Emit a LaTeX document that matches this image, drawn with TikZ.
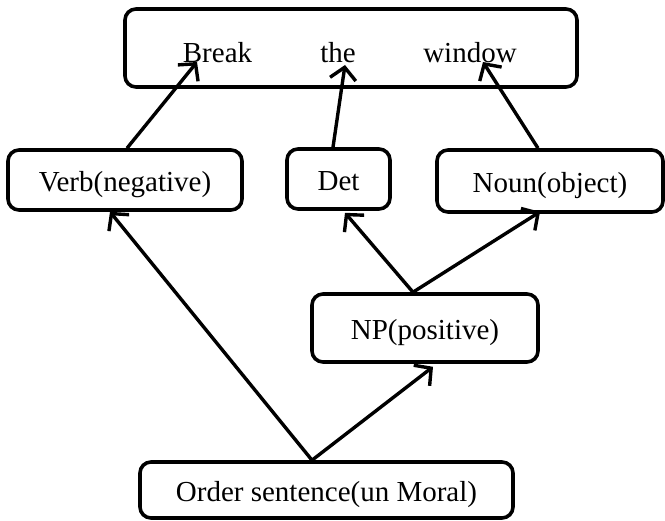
\documentclass[tikz,border=0pt]{standalone}
\usepackage{fontspec}
\setmainfont{Liberation Serif}
\usetikzlibrary{arrows.meta}
\begin{document}
\begin{tikzpicture}[x=1pt,y=-1pt,
  box/.style={draw, line width=3.6pt, rounded corners=11pt, inner sep=0pt,
    text height=28pt, text depth=4pt, font=\fontsize{29}{34}\selectfont},
  word/.style={inner sep=0pt, anchor=base, font=\fontsize{29}{34}\selectfont},
  arr/.style={line width=3.4pt, -{Straight Barb[length=12pt,width=26pt]}}]
\useasboundingbox (0,0) rectangle (665,521);

% sentence box with its three words
\node[box, minimum width=452pt, minimum height=78pt] (sent) at (351,48) {};
\node[word] (brk) at (217.5,63) {Break};
\node[word] (the) at (338,63) {the};
\node[word] (win) at (470,63) {window};

% constituents
\node[box, minimum width=234pt, minimum height=60pt] (verb) at (125,180) {Verb(negative)};
\node[box, minimum width=103pt, minimum height=60pt] (det) at (338.5,179) {Det};
\node[box, minimum width=226pt, minimum height=62pt] (noun) at (550,181) {Noun(object)};
\node[box, minimum width=226pt, minimum height=68pt] (np) at (425,328) {NP(positive)};
\node[box, minimum width=373pt, minimum height=56pt] (order) at (326.5,490) {Order sentence(un Moral)};

% connectors
\draw[arr] ([xshift=2pt]verb.north) -- ([xshift=-20.5pt,yshift=1pt]brk.base);
\draw[arr] ([xshift=-5.5pt]det.north) -- ([xshift=7pt,yshift=-2pt]the.base);
\draw[arr] ([xshift=-12pt]noun.north) -- ([xshift=13pt,yshift=1pt]win.base);
\draw[arr] ([xshift=-12pt]np.north) -- ([xshift=6.5pt,yshift=-2pt]det.south);
\draw[arr] ([xshift=-12pt]np.north) -- ([xshift=-10pt,yshift=2pt]noun.south);
\draw[arr] ([xshift=-14.5pt]order.north) -- ([xshift=-15pt]verb.south);
\draw[arr] ([xshift=-14.5pt]order.north) -- ([xshift=8pt,yshift=-3pt]np.south);
\end{tikzpicture}
\end{document}
